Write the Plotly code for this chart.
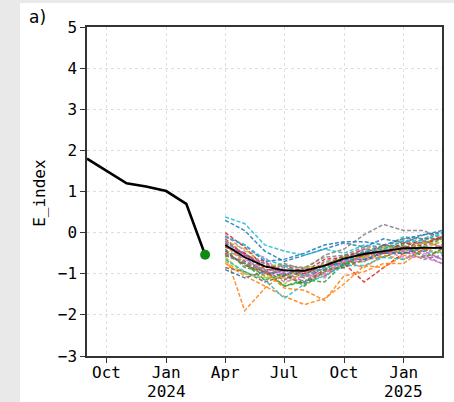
import plotly.graph_objects as go

# ---------------- data ----------------
obs_dates = ["2023-09-01", "2023-10-01", "2023-11-01", "2023-12-01",
             "2024-01-01", "2024-02-01", "2024-03-01"]
obs_values = [1.80, 1.50, 1.20, 1.12, 1.01, 0.70, -0.54]

fc_dates = ["2024-04-01", "2024-05-01", "2024-06-01", "2024-07-01",
            "2024-08-01", "2024-09-01", "2024-10-01", "2024-11-01",
            "2024-12-01", "2025-01-01", "2025-02-01", "2025-03-01"]

fc_mean = [-0.30, -0.60, -0.82, -0.92, -0.93, -0.80, -0.63, -0.52, -0.45, -0.38, -0.37, -0.37]

member_01 = [0.30, 0.05, -0.45, -0.70, -0.55, -0.40, -0.25, -0.35, -0.15, -0.25, -0.05, 0.05]
member_02 = [-0.50, -1.90, -1.35, -1.00, -1.25, -0.95, -0.70, -0.85, -0.55, -0.65, -0.40, -0.50]
member_03 = [-0.40, -0.85, -0.95, -1.30, -1.20, -0.90, -0.85, -0.50, -0.45, -0.25, -0.35, -0.15]
member_04 = [-0.15, -0.55, -0.70, -1.05, -0.85, -1.05, -0.75, -1.20, -0.85, -0.50, -0.45, -0.30]
member_05 = [-0.35, -0.50, -1.00, -0.95, -1.20, -0.80, -0.75, -0.45, -0.60, -0.40, -0.55, -0.75]
member_06 = [-0.50, -0.75, -1.05, -0.90, -1.10, -0.85, -0.60, -0.60, -0.30, -0.40, -0.20, -0.35]
member_07 = [-0.05, -0.45, -0.60, -1.10, -1.05, -1.10, -0.70, -0.65, -0.45, -0.50, -0.50, -0.65]
member_08 = [-0.25, -0.50, -0.85, -0.75, -0.90, -0.55, -0.40, -0.05, 0.20, 0.05, 0.05, -0.15]
member_09 = [-0.60, -1.00, -1.05, -1.25, -0.95, -0.90, -0.60, -0.65, -0.40, -0.45, -0.25, -0.10]
member_10 = [0.38, 0.22, -0.30, -0.45, -0.55, -0.40, -0.50, -0.30, -0.35, -0.10, -0.15, -0.05]
member_11 = [-0.10, -0.30, -0.70, -0.65, -0.50, -0.30, -0.22, -0.22, -0.30, -0.15, -0.05, 0.00]
member_12 = [-0.75, -1.05, -1.30, -1.55, -1.75, -1.60, -1.25, -0.80, -0.85, -0.55, -0.60, -0.45]
member_13 = [-0.25, -0.70, -0.90, -1.30, -1.15, -1.20, -0.75, -0.70, -0.45, -0.50, -0.35, -0.40]
member_14 = [0.00, -0.35, -0.85, -0.80, -0.95, -0.65, -0.60, -0.40, -0.50, -0.25, -0.25, -0.10]
member_15 = [-0.55, -0.70, -0.95, -0.85, -1.00, -0.75, -0.70, -0.45, -0.50, -0.45, -0.65, -0.55]
member_16 = [-0.85, -0.95, -1.20, -1.05, -1.25, -0.90, -0.85, -0.65, -0.60, -0.40, -0.40, -0.35]
member_17 = [-0.20, -0.60, -0.75, -1.05, -0.95, -1.00, -0.70, -0.70, -0.50, -0.45, -0.25, -0.35]
member_18 = [-0.45, -0.60, -1.00, -0.90, -1.05, -0.70, -0.65, -0.40, -0.40, -0.20, -0.25, -0.15]
member_19 = [-0.20, -0.40, -0.80, -0.80, -1.05, -0.75, -0.75, -0.55, -0.60, -0.40, -0.40, -0.20]
member_20 = [-0.65, -0.95, -1.15, -1.60, -1.25, -1.05, -0.80, -0.80, -0.60, -0.65, -0.45, -0.50]
member_21 = [-0.90, -1.10, -0.95, -1.05, -0.90, -0.90, -0.65, -0.65, -0.50, -0.50, -0.35, -0.40]
member_22 = [-0.30, -0.75, -0.95, -1.35, -1.40, -1.65, -1.05, -0.95, -0.75, -0.75, -0.40, -0.35]
member_23 = [-0.55, -0.75, -1.15, -1.00, -1.30, -0.95, -0.80, -0.50, -0.50, -0.30, -0.60, -0.40]
member_24 = [-0.35, -0.50, -0.90, -0.90, -1.00, -0.80, -0.75, -0.55, -0.50, -0.35, -0.30, -0.10]
member_25 = [-0.20, -0.55, -0.75, -1.00, -0.90, -0.90, -0.60, -0.55, -0.35, -0.40, -0.45, -0.65]
member_26 = [-0.45, -0.80, -0.95, -1.15, -0.90, -0.80, -0.55, -0.50, -0.30, -0.35, -0.15, -0.15]
member_27 = [-0.30, -0.65, -0.90, -1.20, -1.05, -1.00, -0.70, -0.60, -0.45, -0.60, -0.60, -0.75]
member_28 = [-0.55, -0.75, -0.95, -0.80, -0.85, -0.60, -0.55, -0.35, -0.35, -0.15, -0.15, 0.05]
member_29 = [-0.70, -1.00, -1.10, -1.10, -0.85, -0.80, -0.60, -0.60, -0.35, -0.40, -0.25, -0.25]
member_30 = [-0.10, -0.30, -0.65, -0.80, -1.05, -0.85, -0.75, -0.45, -0.40, -0.20, -0.20, 0.00]

members = [member_01, member_02, member_03, member_04, member_05, member_06,
           member_07, member_08, member_09, member_10, member_11, member_12,
           member_13, member_14, member_15, member_16, member_17, member_18,
           member_19, member_20, member_21, member_22, member_23, member_24,
           member_25, member_26, member_27, member_28, member_29, member_30]

threshold_high = 3.0
threshold_mid = 1.5
zero_level = 0.0

x_tick_vals = ["2023-10-01", "2024-01-01", "2024-04-01", "2024-07-01",
               "2024-10-01", "2025-01-01"]
x_tick_text = ["Oct", "Jan", "Apr", "Jul", "Oct", "Jan"]
year_labels = ["2024", "2025"]
year_label_dates = ["2024-01-01", "2025-01-01"]
y_tick_vals = [-3, -2, -1, 0, 1, 2, 3, 4, 5]
y_tick_text = ["\u22123", "\u22122", "\u22121", "0", "1", "2", "3", "4", "5"]
x_limits = ["2023-09-01", "2025-03-01"]
y_limits = [-3, 5]

palette = ["#1f77b4", "#ff7f0e", "#2ca02c", "#d62728", "#9467bd",
           "#8c564b", "#e377c2", "#7f7f7f", "#bcbd22", "#17becf"]

MONO = "DejaVu Sans Mono"
PAGE_GRAY = "#e9e9e9"

fig = go.Figure()

for i, vals in enumerate(members):
    fig.add_trace(go.Scatter(
        x=fc_dates, y=vals, mode="lines",
        line=dict(color=palette[i % len(palette)], width=1.5, dash="4px,2px"),
        opacity=0.85, showlegend=False, hoverinfo="skip"))

fig.add_trace(go.Scatter(x=fc_dates, y=fc_mean, mode="lines",
                         line=dict(color="black", width=1.8), showlegend=False))

fig.add_trace(go.Scatter(x=obs_dates, y=obs_values, mode="lines",
                         line=dict(color="black", width=2.6), showlegend=False))

fig.add_trace(go.Scatter(x=[obs_dates[-1]], y=[obs_values[-1]], mode="markers",
                         marker=dict(color="#118a11", size=10), showlegend=False))

# horizontal reference lines
fig.add_shape(type="line", xref="paper", yref="y", x0=0, x1=1,
              y0=threshold_high, y1=threshold_high, layer="between",
              line=dict(color="#ee7b76", width=2, dash="8px,4px"))
fig.add_shape(type="line", xref="paper", yref="y", x0=0, x1=1,
              y0=threshold_mid, y1=threshold_mid, layer="between",
              line=dict(color="#ee7b76", width=2, dash="2px,3px"))
fig.add_shape(type="line", xref="paper", yref="y", x0=0, x1=1,
              y0=zero_level, y1=zero_level, layer="between",
              line=dict(color="#8a8a8a", width=1.5))

# white figure panel over gray page
fig.add_shape(type="rect", xref="paper", yref="paper",
              x0=-0.1887, x1=1.2, y0=-0.3, y1=1.0729, layer="below",
              line=dict(width=0), fillcolor="white")

fig.add_annotation(text="a)", xref="paper", yref="paper", x=-0.168, y=1.066,
                   xanchor="left", yanchor="top", showarrow=False,
                   font=dict(family="DejaVu Sans", size=17, color="black"))

fig.add_annotation(text="E_index", xref="paper", yref="paper", x=-0.136, y=0.495,
                   xanchor="center", yanchor="middle", textangle=-90, showarrow=False,
                   font=dict(family=MONO, size=16, color="black"))

for lab, d in zip(year_labels, year_label_dates):
    fig.add_annotation(text=lab, xref="x", yref="paper", x=d, y=-0.109,
                       xanchor="center", yanchor="middle", showarrow=False,
                       font=dict(family=MONO, size=16, color="black"))

fig.update_layout(
    width=454, height=402,
    margin=dict(l=87, r=12, t=27, b=46, autoexpand=False),
    paper_bgcolor=PAGE_GRAY,
    plot_bgcolor="white",
    showlegend=False,
    font=dict(family=MONO, size=16, color="black"),
)

fig.update_xaxes(
    type="date", range=x_limits, automargin=False,
    tickvals=x_tick_vals, ticktext=x_tick_text,
    showgrid=True, gridcolor="#dedede", gridwidth=1, griddash="3px,3px",
    showline=True, linecolor="#333333", linewidth=1.5, mirror=True,
    ticks="outside", ticklen=5, tickcolor="#333333", tickwidth=1.2,
    ticklabelstandoff=-4,
    zeroline=False, tickfont=dict(family=MONO, size=16),
)
fig.update_yaxes(
    range=y_limits, automargin=False, tickvals=y_tick_vals, ticktext=y_tick_text,
    showgrid=True, gridcolor="#dedede", gridwidth=1, griddash="3px,3px",
    showline=True, linecolor="#333333", linewidth=1.5, mirror=True,
    ticks="outside", ticklen=5, tickcolor="#333333", tickwidth=1.2,
    zeroline=False, tickfont=dict(family=MONO, size=16),
)

post_js = ("document.body.style.margin='0';"
           "document.body.style.padding='0';"
           "document.body.style.overflow='hidden';"
           "document.body.style.backgroundColor='" + PAGE_GRAY + "';")

fig.write_html("out.html", post_script=post_js, config={"displayModeBar": False})
